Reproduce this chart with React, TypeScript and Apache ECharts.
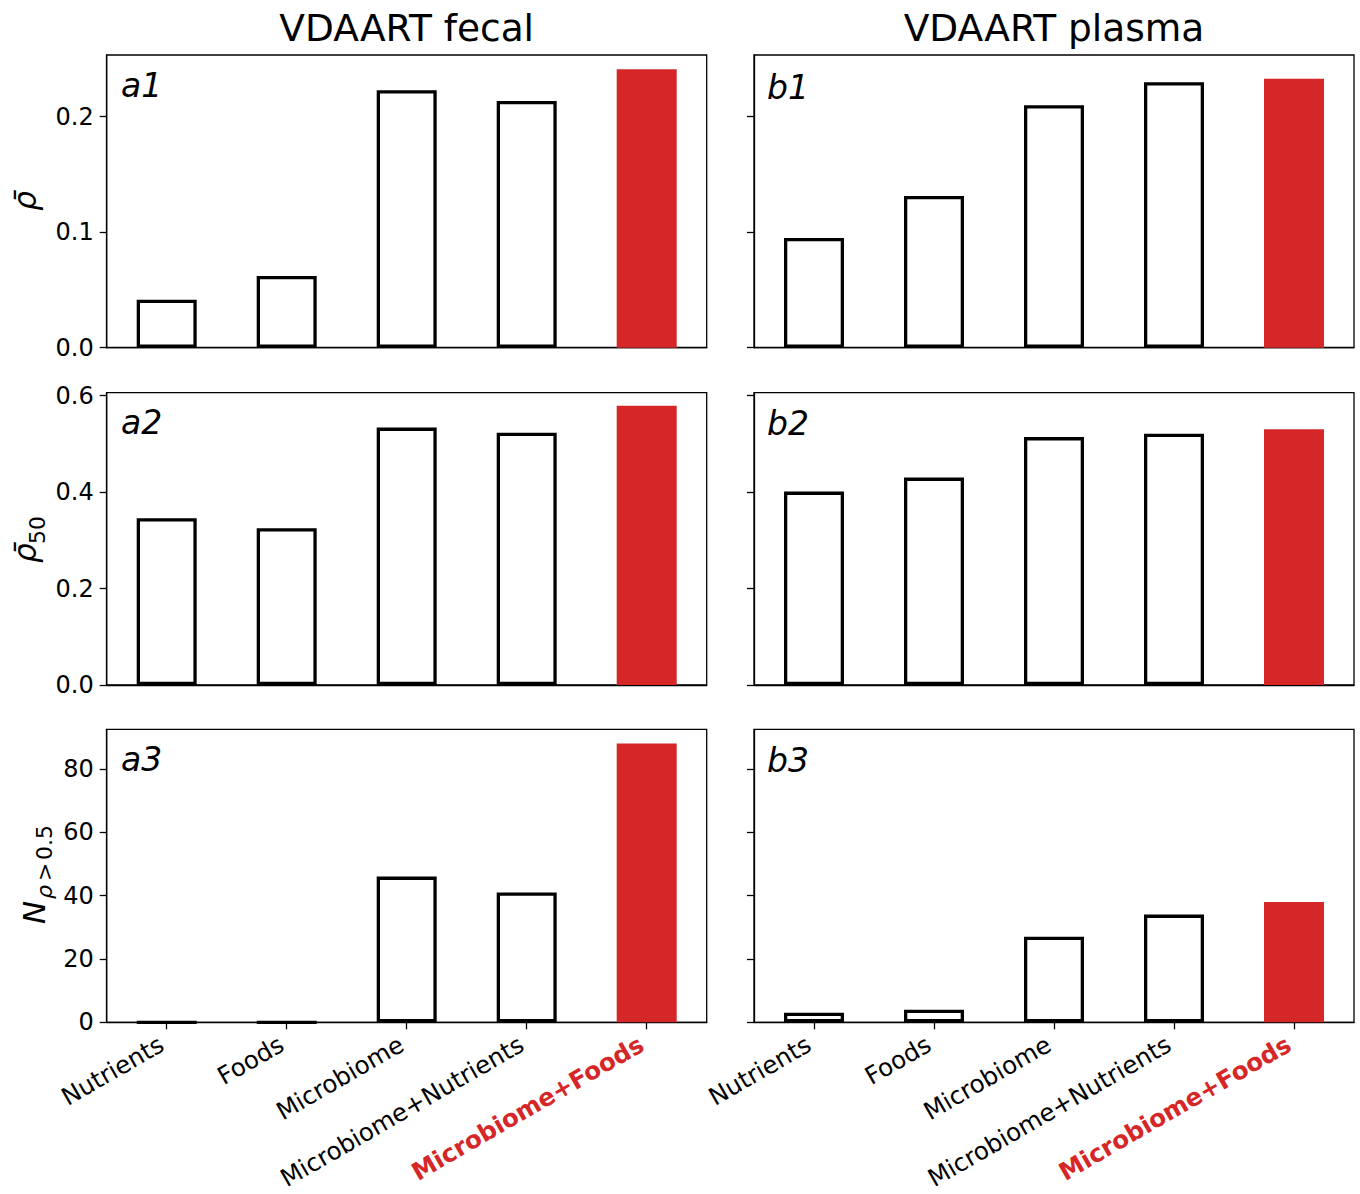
import React, { useEffect, useRef } from 'react';
import * as echarts from 'echarts';

// Model groups along the x axis
const categories = ['Nutrients', 'Foods', 'Microbiome', 'Microbiome+Nutrients', 'Microbiome+Foods'];
const highlightIndex = 4;

// Mean Spearman correlation (row 1)
const fecalRho = [0.0416, 0.062, 0.2229, 0.2136, 0.241];
const plasmaRho = [0.095, 0.1313, 0.2098, 0.2298, 0.2328];

// Mean correlation of the top 50 metabolites (row 2)
const fecalRho50 = [0.3457, 0.325, 0.5336, 0.5232, 0.579];
const plasmaRho50 = [0.401, 0.43, 0.514, 0.521, 0.53];

// Number of metabolites with rho > 0.5 (row 3)
const fecalCount = [0, 0, 46, 41, 88];
const plasmaCount = [3, 4, 27, 34, 38];

// Tick values and upper limit per row
const rowTicks = [
  [0, 0.1, 0.2],
  [0, 0.2, 0.4, 0.6],
  [0, 20, 40, 60, 80],
];
const rowMax = [0.2533, 0.606, 92.5];
const rowDecimals = [1, 1, 0];

const columnTitles = ['VDAART fecal', 'VDAART plasma'];
const panelLetters = [
  ['a1', 'b1'],
  ['a2', 'b2'],
  ['a3', 'b3'],
];

const FONT = '"DejaVu Sans", "Liberation Sans", sans-serif';
const RED = '#d62728';

const colLeft = [106.7, 754];
const colWidth = 600;
const rowTop = [55, 392.7, 729.3];
const rowHeight = [292.7, 292.3, 293];

function buildOption() {
  const values = [
    [fecalRho, plasmaRho],
    [fecalRho50, plasmaRho50],
    [fecalCount, plasmaCount],
  ];
  const grid: any[] = [];
  const xAxis: any[] = [];
  const yAxis: any[] = [];
  const series: any[] = [];
  const axisLineStyle = { color: '#000', width: 1.3 };

  for (let r = 0; r < 3; r++) {
    for (let c = 0; c < 2; c++) {
      const idx = grid.length;
      grid.push({
        left: colLeft[c],
        top: rowTop[r],
        width: colWidth,
        height: rowHeight[r],
        show: true,
        borderColor: '#000',
        borderWidth: 1.3,
        backgroundColor: 'transparent',
        containLabel: false,
        outerBoundsMode: 'none',
      });
      const bottomRow = r === 2;
      xAxis.push({
        type: 'category',
        gridIndex: idx,
        data: categories,
        boundaryGap: true,
        axisLine: { show: true, lineStyle: axisLineStyle },
        axisTick: { show: bottomRow, alignWithLabel: true, length: 7, lineStyle: axisLineStyle },
        axisLabel: {
          show: bottomRow,
          interval: 0,
          rotate: 30,
          margin: 17,
          padding: [0, 6, 0, 0],
          formatter: (v: string) => (v === categories[highlightIndex] ? `{h|${v}}` : `{n|${v}}`),
          rich: {
            n: { fontSize: 24.5, lineHeight: 24, fontFamily: FONT, color: '#000' },
            h: { fontSize: 24.5, lineHeight: 24, fontFamily: FONT, color: RED, fontWeight: 'bold' },
          },
        },
        splitLine: { show: false },
      });
      yAxis.push({
        type: 'value',
        gridIndex: idx,
        min: 0,
        max: rowMax[r],
        axisLine: { show: true, lineStyle: axisLineStyle },
        axisTick: { show: true, length: 7, lineStyle: axisLineStyle, customValues: rowTicks[r] },
        axisLabel: {
          show: c === 0,
          customValues: rowTicks[r],
          margin: 13,
          fontSize: 24,
          fontFamily: FONT,
          color: '#000',
          formatter: (v: number) => Number(v).toFixed(rowDecimals[r]),
        },
        splitLine: { show: false },
      });
      series.push({
        type: 'bar',
        xAxisIndex: idx,
        yAxisIndex: idx,
        barWidth: 60,
        data: values[r][c].map((v, k) => ({
          value: v,
          itemStyle:
            k === highlightIndex
              ? { color: RED, borderColor: RED, borderWidth: 3.3 }
              : { color: '#fff', borderColor: '#000', borderWidth: 3.3 },
        })),
      });
    }
  }

  const graphic: any[] = [];
  // column titles
  columnTitles.forEach((t, c) => {
    graphic.push({
      type: 'text',
      x: colLeft[c] + colWidth / 2,
      y: 28,
      style: { text: t, fontSize: 37.5, fontFamily: FONT, fill: '#000', align: 'center', verticalAlign: 'middle' },
    });
  });
  // panel letters
  const letterFs = 33;
  const letterBase = [
    [96.7, 99.3],
    [434.3, 435],
    [770.7, 771.7],
  ];
  const letterX = [121, 767];
  for (let r = 0; r < 3; r++) {
    for (let c = 0; c < 2; c++) {
      graphic.push({
        type: 'text',
        x: letterX[c],
        y: letterBase[r][c] - 0.346 * letterFs,
        style: {
          text: panelLetters[r][c],
          fontSize: letterFs,
          fontStyle: 'italic',
          fontFamily: FONT,
          fill: '#000',
          align: 'left',
          verticalAlign: 'middle',
        },
      });
    }
  }

  // y axis labels (rotated, with subscripts)
  const big = 31;
  const small = 22;
  const mid = (fs: number) => -0.346 * fs;
  const labelText = (text: string, x: number, y: number, fs: number, italic: boolean, align = 'left') => ({
    type: 'text',
    x,
    y,
    style: {
      text,
      fontSize: fs,
      fontStyle: italic ? 'italic' : 'normal',
      fontFamily: FONT,
      fill: '#000',
      align,
      verticalAlign: 'middle',
    },
  });
  graphic.push({
    type: 'group',
    x: 36,
    y: 201,
    rotation: Math.PI / 2,
    children: [labelText('ρ\u0304', 0, mid(big), big, true, 'center')],
  });
  graphic.push({
    type: 'group',
    x: 36,
    y: 563,
    rotation: Math.PI / 2,
    children: [
      labelText('ρ\u0304', 0, mid(big), big, true),
      labelText('50', 19, 9 + mid(small), small, false),
    ],
  });
  graphic.push({
    type: 'group',
    x: 45,
    y: 924,
    rotation: Math.PI / 2,
    children: [
      labelText('N', 0, mid(big), big, true),
      labelText('ρ', 25, 7 + mid(small), small, true),
      labelText('>', 43, 7 + mid(small), small, false),
      labelText('0.5', 64, 7 + mid(small), small, false),
    ],
  });

  return {
    animation: false,
    backgroundColor: '#fff',
    textStyle: { fontFamily: FONT },
    grid,
    xAxis,
    yAxis,
    series,
    graphic,
  };
}

export default function App() {
  const ref = useRef<HTMLDivElement>(null);
  useEffect(() => {
    if (!ref.current) return;
    const chart = echarts.init(ref.current, null, { renderer: 'svg' });
    chart.setOption(buildOption() as any);
    return () => chart.dispose();
  }, []);
  return (
    <div
      ref={ref}
      style={{ position: 'absolute', left: 0, top: 0, width: 1360, height: 1194, background: '#fff' }}
    />
  );
}
